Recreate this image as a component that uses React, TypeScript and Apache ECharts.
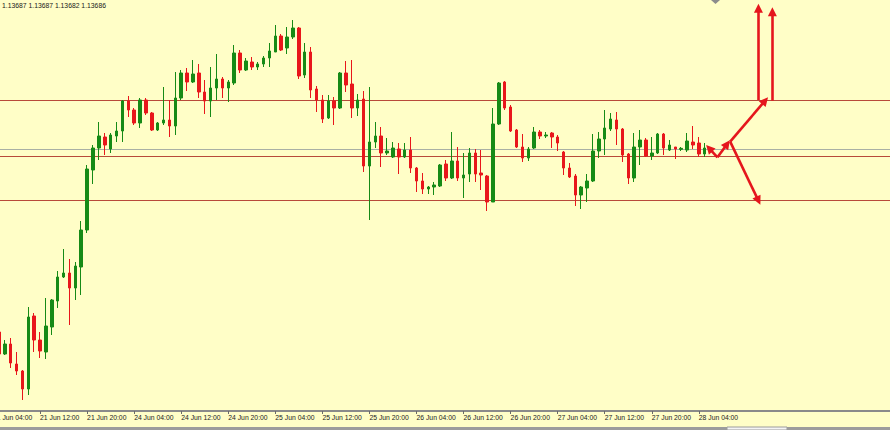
import React, { useEffect, useRef } from "react";
import * as echarts from "echarts";

// ---- Data (EURUSD H1) ----
// trading days shown and their first / last hour
const days: [string, number, number][] = [
  ["21 Jun", 4, 23],
  ["24 Jun", 0, 23],
  ["25 Jun", 0, 23],
  ["26 Jun", 0, 23],
  ["27 Jun", 0, 23],
  ["28 Jun", 0, 23],
];
const futureSlots = 13; // empty shift space on the right
const labelHours = ["04:00", "12:00", "20:00"];

const opens = [
  1.131, 1.13137, 1.13071, 1.13101, 1.13041, 1.1302, 1.12966, 1.13185, 1.13113, 1.13077,
  1.13152, 1.1323, 1.13302, 1.13314, 1.13269, 1.13332, 1.13443, 1.13623, 1.13689, 1.13722,
  1.13686, 1.13725, 1.1374, 1.1383, 1.13803, 1.13764, 1.13833, 1.13794, 1.13743, 1.13764,
  1.13773, 1.13755, 1.13839, 1.13914, 1.13887, 1.13914, 1.13857, 1.1383, 1.13869, 1.13896,
  1.13869, 1.13884, 1.13974, 1.13923, 1.13947, 1.13932, 1.13941, 1.13959, 1.13977, 1.14025,
  1.13989, 1.14022, 1.14049, 1.13908, 1.13977, 1.13866, 1.13833, 1.13779, 1.1383, 1.13809,
  1.13914, 1.13881, 1.13809, 1.13836, 1.13635, 1.13707, 1.13725, 1.13674, 1.13662, 1.13686,
  1.13662, 1.13683, 1.13629, 1.1359, 1.13566, 1.13572, 1.13575, 1.13641, 1.13599, 1.1365,
  1.13599, 1.13611, 1.13674, 1.13614, 1.13605, 1.13527, 1.13761, 1.13887, 1.13812, 1.13743,
  1.13692, 1.13659, 1.13689, 1.13737, 1.13725, 1.13734, 1.13722, 1.13677, 1.13629, 1.13605,
  1.13548, 1.13569, 1.1359, 1.1368, 1.13716, 1.13746, 1.13773, 1.13746, 1.13671, 1.13599,
  1.13692, 1.13713, 1.13665, 1.13674, 1.13731, 1.13683, 1.13692, 1.13685, 1.13683, 1.13707,
  1.13704, 1.13671, 1.13687,
];
const closes = [
  1.13137, 1.13071, 1.13101, 1.13044, 1.1302, 1.12966, 1.13182, 1.13113, 1.1308, 1.13155,
  1.13233, 1.13302, 1.13314, 1.13269, 1.13335, 1.13443, 1.13626, 1.13689, 1.13725, 1.13698,
  1.13728, 1.1374, 1.1383, 1.13803, 1.13764, 1.13833, 1.13794, 1.13743, 1.13764, 1.13773,
  1.13755, 1.13839, 1.13914, 1.13887, 1.13911, 1.13857, 1.1383, 1.13869, 1.13896, 1.13869,
  1.13887, 1.13974, 1.13923, 1.1395, 1.13932, 1.13941, 1.13959, 1.1398, 1.14025, 1.13983,
  1.14022, 1.14049, 1.13905, 1.13977, 1.13863, 1.13833, 1.13776, 1.1383, 1.13809, 1.13914,
  1.13878, 1.13809, 1.13833, 1.13635, 1.13707, 1.13725, 1.13674, 1.1368, 1.13689, 1.13662,
  1.13683, 1.13629, 1.1359, 1.13566, 1.13572, 1.13578, 1.13638, 1.13599, 1.1365, 1.13599,
  1.13608, 1.13674, 1.13611, 1.13608, 1.13527, 1.13761, 1.13884, 1.13809, 1.1374, 1.13692,
  1.13659, 1.13686, 1.13737, 1.13725, 1.13728, 1.13722, 1.13704, 1.13629, 1.13602, 1.13548,
  1.13572, 1.1359, 1.1368, 1.13716, 1.13749, 1.13776, 1.13746, 1.13668, 1.13599, 1.13692,
  1.13713, 1.13665, 1.13674, 1.13731, 1.13689, 1.13698, 1.13686, 1.13688, 1.1371, 1.13698,
  1.13671, 1.13689, 1.13686,
];
const lows = [
  1.1308, 1.13053, 1.13068, 1.13029, 1.13008, 1.12933, 1.12948, 1.13077, 1.13059, 1.13056,
  1.13128, 1.13209, 1.13299, 1.13158, 1.13233, 1.13248, 1.13434, 1.13581, 1.13653, 1.13668,
  1.13674, 1.13707, 1.13707, 1.13782, 1.13758, 1.13749, 1.13788, 1.1374, 1.1374, 1.13758,
  1.13722, 1.13728, 1.13833, 1.1386, 1.13884, 1.13839, 1.13791, 1.13782, 1.13833, 1.13839,
  1.13827, 1.13878, 1.13914, 1.1392, 1.13923, 1.13923, 1.13932, 1.13932, 1.13977, 1.1398,
  1.13971, 1.14016, 1.13896, 1.13899, 1.13839, 1.13797, 1.13764, 1.13776, 1.13758, 1.13806,
  1.13857, 1.13779, 1.13785, 1.13617, 1.13473, 1.13689, 1.13632, 1.13668, 1.13659, 1.13611,
  1.13659, 1.13614, 1.13557, 1.13551, 1.13551, 1.13548, 1.13572, 1.1359, 1.13596, 1.1359,
  1.13539, 1.13587, 1.13587, 1.13563, 1.135, 1.13527, 1.13758, 1.13803, 1.13737, 1.13689,
  1.13647, 1.1365, 1.13686, 1.13716, 1.13719, 1.13689, 1.1368, 1.13608, 1.13599, 1.13515,
  1.13506, 1.13527, 1.13587, 1.13659, 1.13668, 1.1374, 1.13698, 1.13647, 1.13581, 1.13587,
  1.13638, 1.13662, 1.13653, 1.13671, 1.13668, 1.1368, 1.13656, 1.1368, 1.13677, 1.13686,
  1.13662, 1.13662, 1.13682,
];
const highs = [
  1.1315, 1.13167, 1.13113, 1.13119, 1.13077, 1.13023, 1.13212, 1.13194, 1.13137, 1.13239,
  1.13236, 1.1332, 1.13386, 1.13356, 1.13347, 1.1347, 1.13638, 1.13698, 1.13767, 1.13734,
  1.13734, 1.13767, 1.13833, 1.13845, 1.13809, 1.13839, 1.13839, 1.13797, 1.13767, 1.13872,
  1.13833, 1.13917, 1.13923, 1.13929, 1.13953, 1.13941, 1.13893, 1.13932, 1.13971, 1.13902,
  1.13893, 1.13998, 1.13983, 1.13959, 1.13962, 1.13947, 1.13965, 1.14004, 1.14058, 1.14031,
  1.14052, 1.14073, 1.14052, 1.14004, 1.13992, 1.13875, 1.13848, 1.13848, 1.13842, 1.13917,
  1.1395, 1.13953, 1.13851, 1.1386, 1.13872, 1.13767, 1.13752, 1.13719, 1.13707, 1.13704,
  1.13704, 1.13722, 1.13632, 1.13614, 1.13575, 1.13587, 1.13641, 1.13653, 1.13737, 1.13692,
  1.13674, 1.13689, 1.13686, 1.13683, 1.13608, 1.13809, 1.13887, 1.1389, 1.13818, 1.13746,
  1.13731, 1.13692, 1.13752, 1.13743, 1.13737, 1.13737, 1.13728, 1.1368, 1.13644, 1.13611,
  1.13575, 1.13611, 1.13731, 1.13737, 1.13803, 1.13794, 1.13797, 1.13749, 1.13674, 1.13734,
  1.13743, 1.13719, 1.13722, 1.13734, 1.13734, 1.13713, 1.13692, 1.13692, 1.13734, 1.13755,
  1.13722, 1.13704, 1.13687,
];

// horizontal levels drawn on the chart
const redLevels = [1.13833, 1.13665, 1.13533];
const bidLevel = 1.13686;

// hand-drawn arrows: [fromIndex, fromPrice, toIndex, toPrice]
const arrowsFromX = [123.17, 123.17, 125.33, 125.33, 130.13, 132.5];
const arrowsFromY = [1.13661, 1.13661, 1.13708, 1.13708, 1.13833, 1.13831];
const arrowsToX = [121.76, 124.82, 131.27, 130.13, 130.13, 132.5];
const arrowsToY = [1.13688, 1.13701, 1.13831, 1.13531, 1.14108, 1.14098];

const priceMin = 1.129;
const priceMax = 1.14133;

// ---- styles ----
const BG = "#fffec7";
const UP = "#168a16";
const DOWN = "#e8161b";
const LEVEL = "#b84a3a";
const BID = "#a9b0a4";
const ARROW = "#e5161c";
const FONT = "Tahoma, 'Liberation Sans', Arial, sans-serif";
const SHIFT = 10; // the chart canvas starts 10px left of the window

function buildCategories(): string[] {
  const cats: string[] = [];
  days.forEach(([d, h0, h1]) => {
    for (let h = h0; h <= h1; h++) {
      cats.push(`${d} ${String(h).padStart(2, "0")}:00`);
    }
  });
  for (let k = 1; k <= futureSlots; k++) cats.push(`+${k}`);
  return cats;
}

export default function App() {
  const ref = useRef<HTMLDivElement>(null);

  useEffect(() => {
    if (!ref.current) return;
    const chart = echarts.init(ref.current, undefined, { renderer: "svg" });
    const categories = buildCategories();
    const n = categories.length;
    const lastIdx = opens.length - 1;
    const ohlc = opens.map((o, i) => [o, closes[i], lows[i], highs[i]]);
    const showLabel = (idx: number, val: string) =>
      idx <= lastIdx && labelHours.some((h) => val.endsWith(h));
    const header = [opens[lastIdx], highs[lastIdx], lows[lastIdx], closes[lastIdx]]
      .map((v) => v.toFixed(5))
      .join(" ");

    const levelLine = (v: number, color: string) => ({
      coords: [
        [-0.5, v],
        [n - 0.5, v],
      ],
      lineStyle: { color, width: 1, opacity: 1 },
    });

    chart.setOption({
      animation: false,
      backgroundColor: BG,
      title: {
        text: header,
        left: SHIFT + 2,
        top: 2,
        padding: 0,
        textStyle: { fontSize: 6.8, fontWeight: "normal", color: "#1a1a1a", fontFamily: FONT },
      },
      grid: { left: 0, top: 0, width: 901, height: 411, containLabel: false },
      xAxis: [
        {
          type: "category",
          data: categories,
          boundaryGap: true,
          axisLine: { show: true, lineStyle: { color: "#8a8a8a", width: 2 } },
          axisTick: {
            show: true,
            alignWithLabel: true,
            interval: showLabel,
            length: 3,
            lineStyle: { color: "#6a6a6a", width: 1 },
          },
          axisLabel: {
            interval: showLabel,
            align: "left",
            margin: 3,
            fontSize: 6.8,
            color: "#222",
            fontFamily: FONT,
          },
          splitLine: { show: false },
        },
        {
          type: "value",
          min: -0.5,
          max: n - 0.5,
          show: false,
          splitLine: { show: false },
        },
      ],
      yAxis: {
        type: "value",
        min: priceMin,
        max: priceMax,
        show: false,
        splitLine: { show: false },
      },
      series: [
        {
          type: "lines",
          coordinateSystem: "cartesian2d",
          xAxisIndex: 1,
          yAxisIndex: 0,
          silent: true,
          symbol: "none",
          z: 1,
          data: [
            ...redLevels.map((v) => levelLine(v, LEVEL)),
            levelLine(bidLevel, BID),
          ],
        },
        {
          type: "candlestick",
          xAxisIndex: 0,
          data: ohlc,
          barWidth: 3,
          z: 2,
          itemStyle: {
            color: UP,
            color0: DOWN,
            borderColor: UP,
            borderColor0: DOWN,
            borderWidth: 1,
          },
        },
        {
          type: "lines",
          coordinateSystem: "cartesian2d",
          xAxisIndex: 1,
          yAxisIndex: 0,
          silent: true,
          z: 3,
          symbol: ["none", "triangle"],
          symbolSize: [7, 9],
          lineStyle: { color: ARROW, width: 2.6, opacity: 1 },
          data: arrowsFromX.map((x, i) => ({
            coords: [
              [x, arrowsFromY[i]],
              [arrowsToX[i], arrowsToY[i]],
            ],
          })),
        },
      ],
      graphic: [
        { type: "rect", shape: { x: SHIFT, y: 427, width: 890, height: 3 }, style: { fill: "#9c9c9c" }, silent: true },
        { type: "rect", shape: { x: SHIFT + 727, y: 427, width: 60, height: 3 }, style: { fill: "#f4f4f4", stroke: "#9c9c9c", lineWidth: 1 }, silent: true },
        { type: "polygon", shape: { points: [[SHIFT + 711, 0], [SHIFT + 720, 0], [SHIFT + 715.5, 4]] }, style: { fill: "#8c8c8c" }, silent: true },
      ],
    });
    return () => chart.dispose();
  }, []);

  return (
    <div
      ref={ref}
      style={{ position: "fixed", left: -SHIFT, top: 0, width: 890 + SHIFT, height: 430 }}
    />
  );
}
